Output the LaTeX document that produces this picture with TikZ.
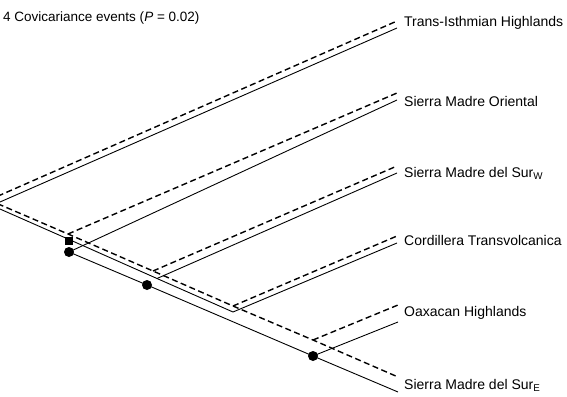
\documentclass[tikz,border=0pt]{standalone}
\usepackage{fontspec}
\setmainfont{Liberation Sans}
\begin{document}
\begin{tikzpicture}[x=1pt,y=-1pt,
  solidline/.style={line width=0.9pt, line join=round},
  dashline/.style={line width=1.4pt, dash pattern=on 6pt off 3.5pt, line join=round},
  lbl/.style={anchor=base west, inner sep=0pt, font=\fontsize{14}{16}\selectfont},
  ttl/.style={anchor=base west, inner sep=0pt, font=\fontsize{13.5}{16}\selectfont},
  event/.style={circle, fill=black, inner sep=0pt, minimum size=10pt},
  sqevent/.style={rectangle, fill=black, inner sep=0pt, minimum size=8pt}]
\useasboundingbox (0,0) rectangle (567,396);
\clip (0,0) rectangle (567,396);
% dashed tree
\coordinate (DR) at (-11,200);
\coordinate (DN1) at (68,234);
\coordinate (DN2) at (153,271);
\coordinate (DN3) at (233,306);
\coordinate (DN4) at (313,340);
\coordinate (DT1) at (397,21);
\coordinate (DT2) at (397,93);
\coordinate (DT3) at (397,166);
\coordinate (DT4) at (397,236);
\coordinate (DT5) at (398,305);
\coordinate (DT6) at (398,377);
% solid tree
\coordinate (SR) at (-8,205.5);
\coordinate (SN1) at (68,239);
\coordinate (SN2) at (157,278.5);
\coordinate (SV) at (233,312);
\coordinate (ST1) at (397,28);
\coordinate (ST2) at (397,100);
\coordinate (ST3) at (397,173);
\coordinate (ST4) at (397,243);
\coordinate (ST5) at (398,322);
\coordinate (ST6) at (398,392);
\coordinate (C1) at (69,252);
\coordinate (C2) at (147,285);
\coordinate (C3) at (313,356);
% solid lines
\draw[solidline] (SR) -- (ST1);
\draw[solidline] (SR) -- (SN1) -- (SN2) -- (SV) -- (ST4);
\draw[solidline] (SN2) -- (ST3);
\draw[solidline] (C1) -- (C2) -- (C3) -- (ST6);
\draw[solidline] (C1) -- (ST2);
\draw[solidline] (C3) -- (ST5);
% dashed lines
\draw[dashline] (DR) -- (DT1);
\draw[dashline] (DR) -- (DN1) -- (DN2) -- (DN3) -- (DN4) -- (DT6);
\draw[dashline] (DN1) -- (DT2);
\draw[dashline] (DN2) -- (DT3);
\draw[dashline] (DN3) -- (DT4);
\draw[dashline] (DN4) -- (DT5);
% event markers
\node[sqevent] (E0) at (69,241) {};
\node[event] (E1) at (C1) {};
\node[event] (E2) at (C2) {};
\node[event] (E3) at (C3) {};
% labels
\node[ttl] (title) at (3,22) {4 Covicariance events (\textit{P} = 0.02)};
\node[lbl] (L1) at (404,27) {Trans-Isthmian Highlands};
\node[lbl] (L2) at (404,106) {Sierra Madre Oriental};
\node[lbl] (L3) at (404,177) {Sierra Madre del Sur\textsubscript{W}};
\node[lbl] (L4) at (404,245) {Cordillera Transvolcanica};
\node[lbl] (L5) at (404,316) {Oaxacan Highlands};
\node[lbl] (L6) at (404,389) {Sierra Madre del Sur\textsubscript{E}};
\end{tikzpicture}
\end{document}
